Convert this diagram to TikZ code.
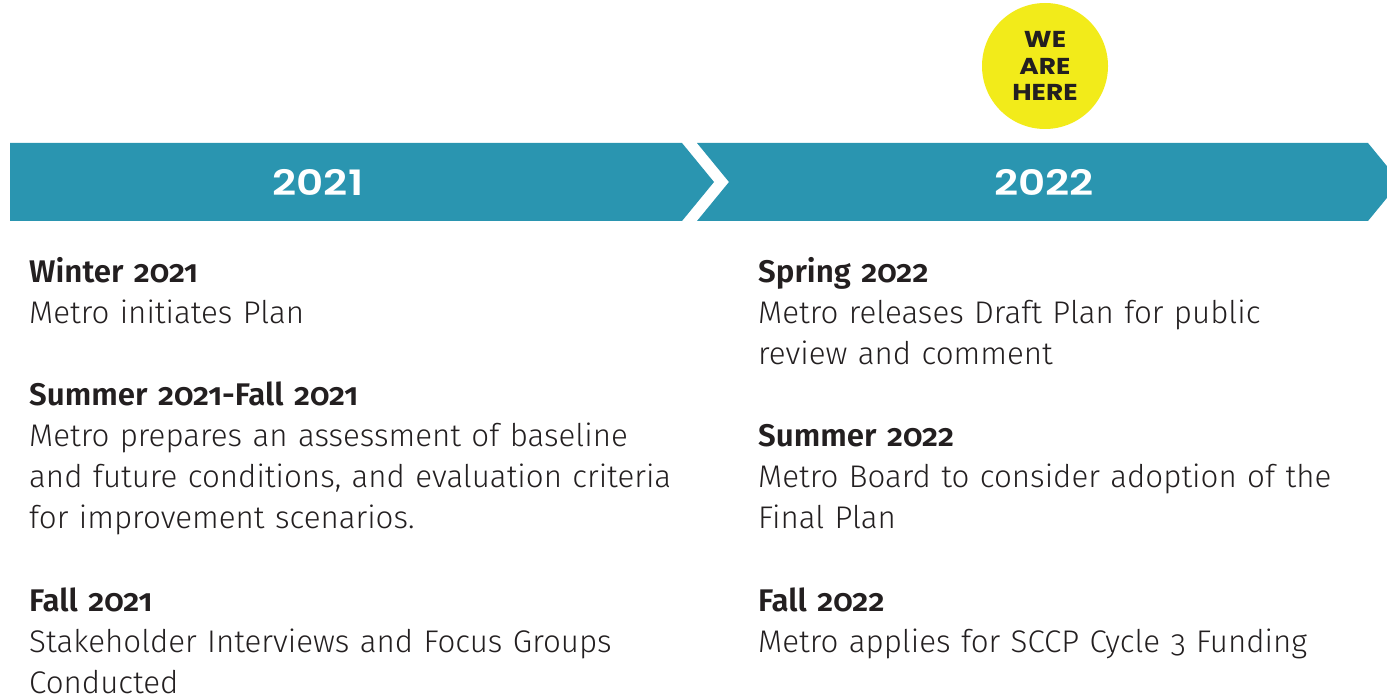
\documentclass[tikz,border=0pt]{standalone}
\usepackage{fontspec}
\setmainfont{Fira Sans Light}[BoldFont={Fira Sans SemiBold}, Numbers=OldStyle]
\newfontfamily\bandfont{Poppins SemiBold}[FakeStretch=1.2]
\newfontfamily\herefont{Poppins Bold}[FakeStretch=1.15]
\definecolor{bandteal}{HTML}{2A95B0}
\definecolor{hereyellow}{HTML}{F2EB1A}
\definecolor{txtdark}{HTML}{231F20}
\begin{document}
\begin{tikzpicture}[x=1pt,y=-1pt,
  entry/.style={anchor=base west, inner sep=0pt, text width=680pt, align=left,
    text=txtdark, font=\fontsize{31.3}{41}\selectfont},
  yeartext/.style={text=white, inner sep=0pt, font=\bandfont\fontsize{35}{35}\selectfont},
  band/.style={fill=bandteal, draw=none}]
\useasboundingbox (0,0) rectangle (1387,695);
% bands
\fill[bandteal] (10,143) -- (682,143) -- (714,182) -- (682,221) -- (10,221) -- cycle;
\fill[bandteal] (697,143) -- (1368,143) -- (1400,182) -- (1368,221) -- (697,221) -- (729,182) -- cycle;
\node[yeartext] (y2021) at (318,182) {2021};
\node[yeartext] (y2022) at (1044,182) {2022};
% we are here
\node[circle, fill=hereyellow, minimum size=126pt, inner sep=0pt, align=center,
  text=txtdark, font=\herefont\fontsize{23}{26.5}\selectfont] (here) at (1045,66) {WE\\ARE\\HERE};
% left column
\node[entry] (e1) at (29,282) {\textbf{Winter 2021}\\Metro initiates Plan};
\node[entry] (e2) at (29,405) {\textbf{Summer 2021-Fall 2021}\\Metro prepares an assessment of baseline\\and future conditions, and evaluation criteria\\for improvement scenarios.};
\node[entry] (e3) at (29,611) {\textbf{Fall 2021}\\Stakeholder Interviews and Focus Groups\\Conducted};
% right column
\node[entry] (e4) at (758,282) {\textbf{Spring 2022}\\Metro releases Draft Plan for public\\review and comment};
\node[entry] (e5) at (758,446) {\textbf{Summer 2022}\\Metro Board to consider adoption of the\\Final Plan};
\node[entry] (e6) at (758,611) {\textbf{Fall 2022}\\Metro applies for SCCP Cycle 3 Funding};
\end{tikzpicture}
\end{document}
